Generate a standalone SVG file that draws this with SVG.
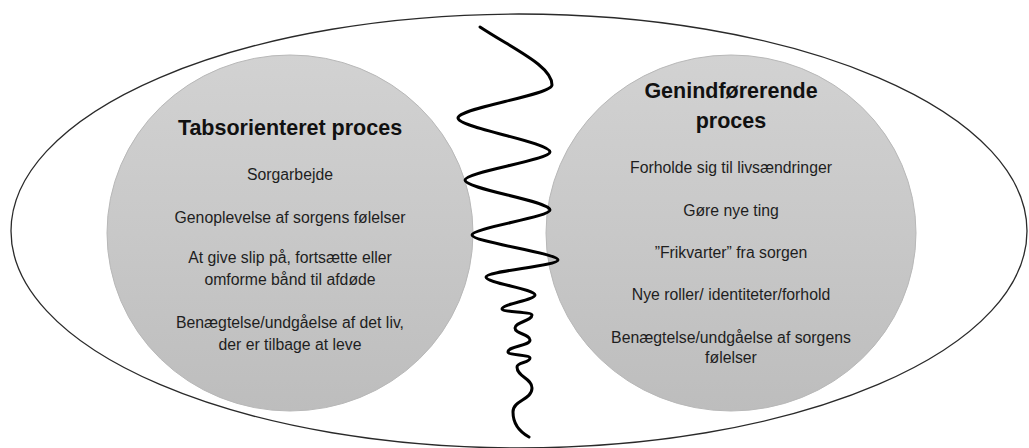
<svg xmlns="http://www.w3.org/2000/svg" width="1029" height="448" viewBox="0 0 1029 448">
  <defs>
    <linearGradient id="gray" x1="0" y1="0" x2="0" y2="1">
      <stop offset="0" stop-color="#d2d2d2"/>
      <stop offset="0.5" stop-color="#c8c8c8"/>
      <stop offset="1" stop-color="#bdbdbd"/>
    </linearGradient>
  </defs>
  <style>
    .outer { fill: #ffffff; stroke: #2a2a2a; stroke-width: 1.3; }
    .circle { fill: url(#gray); stroke: #b8b8b8; stroke-width: 1; }
    .title { font-family: "Liberation Sans", Arial, sans-serif; font-weight: bold; font-size: 21.5px; fill: #111111; text-anchor: middle; }
    .item { font-family: "Liberation Sans", Arial, sans-serif; font-size: 15.8px; fill: #1e1e1e; text-anchor: middle; }
    .wave { fill: none; stroke: #000000; stroke-width: 3; stroke-linecap: round; stroke-linejoin: round; }
  </style>
  <rect width="1029" height="448" fill="#ffffff"/>
  <g id="outer-ellipse">
    <ellipse class="outer" cx="519" cy="231" rx="508" ry="217"/>
  </g>
  <g id="loss-process">
    <ellipse class="circle" cx="290" cy="233" rx="183" ry="178"/>
    <text class="title" x="290" y="135">Tabsorienteret proces</text>
    <text class="item" x="290" y="180">Sorgarbejde</text>
    <text class="item" x="290" y="223">Genoplevelse af sorgens følelser</text>
    <text class="item" x="290" y="263">At give slip på, fortsætte eller</text>
    <text class="item" x="290" y="285">omforme bånd til afdøde</text>
    <text class="item" x="290" y="328">Benægtelse/undgåelse af det liv,</text>
    <text class="item" x="290" y="350">der er tilbage at leve</text>
  </g>
  <g id="restoration-process">
    <ellipse class="circle" cx="731" cy="233" rx="185" ry="178"/>
    <text class="title" x="731" y="98">Genindførerende</text>
    <text class="title" x="731" y="128">proces</text>
    <text class="item" x="731" y="173">Forholde sig til livsændringer</text>
    <text class="item" x="731" y="216">Gøre nye ting</text>
    <text class="item" x="731" y="258">”Frikvarter” fra sorgen</text>
    <text class="item" x="731" y="300">Nye roller/ identiteter/forhold</text>
    <text class="item" x="731" y="343">Benægtelse/undgåelse af sorgens</text>
    <text class="item" x="731" y="363">følelser</text>
  </g>
  <g id="connectors">
    <path class="wave" d="M480,27 C515,50 552,66 552,85 C552,95 458,108 458,118 C458,128 550,142 550,152 C550,160 465,172 465,180 C465,189 550,201 550,210 C550,217 472,228 472,235 C472,242 558,253 558,260 C558,266 486,271 486,277 C486,283 535,289 535,295 C535,300 502,304 502,309 C502,312 532,312 532,315 C532,321 515,322 515,328 C515,334 530,334 530,340 C530,346 508,346 508,352 C508,355 530,355 530,358 C530,363 517,362 517,367 C517,377 532,378 532,388 C532,400 513,400 513,412 C513,424 520,432 529,437"/>
  </g>
</svg>
